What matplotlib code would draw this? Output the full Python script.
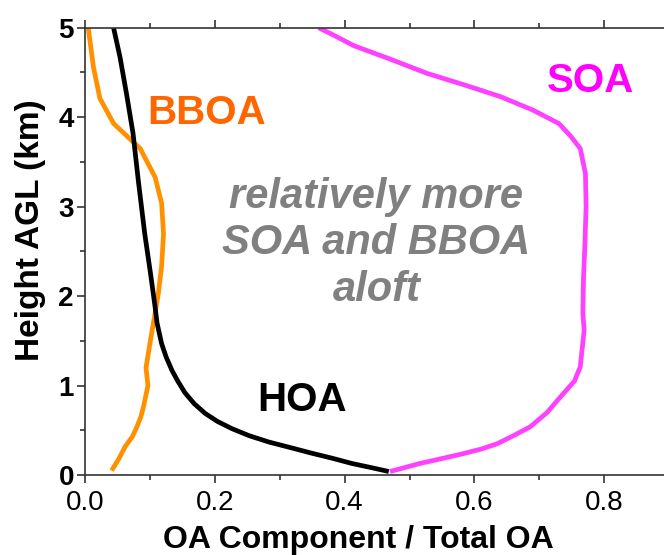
import matplotlib
matplotlib.use("Agg")
import matplotlib.pyplot as plt
from matplotlib.ticker import MultipleLocator

plt.rcParams['font.family'] = ['Liberation Sans', 'DejaVu Sans']

# vertical profiles: fraction of total OA vs height (km)
hoa_x = [0.044, 0.054, 0.064, 0.074, 0.082, 0.092, 0.101, 0.108, 0.111, 0.118,
         0.125, 0.134, 0.143, 0.154, 0.168, 0.185, 0.204, 0.226, 0.253, 0.283,
         0.315, 0.349, 0.380, 0.411, 0.440, 0.468]
hoa_y = [5.00, 4.67, 4.26, 3.82, 3.30, 2.70, 2.25, 1.88, 1.70, 1.47,
         1.32, 1.17, 1.05, 0.92, 0.80, 0.69, 0.60, 0.52, 0.44, 0.37,
         0.31, 0.245, 0.19, 0.13, 0.085, 0.04]

bboa_x = [0.005, 0.013, 0.023, 0.044, 0.085, 0.108, 0.118, 0.121, 0.118, 0.113,
          0.108, 0.100, 0.094, 0.097, 0.090, 0.086, 0.080, 0.073, 0.062, 0.052,
          0.041]
bboa_y = [5.00, 4.56, 4.21, 3.93, 3.65, 3.33, 3.04, 2.70, 2.33, 2.03,
          1.81, 1.47, 1.20, 1.00, 0.76, 0.65, 0.54, 0.43, 0.32, 0.18,
          0.05]

soa_x = [0.360, 0.385, 0.414, 0.470, 0.527, 0.585, 0.640, 0.690, 0.730, 0.748,
         0.763, 0.771, 0.772, 0.770, 0.768, 0.767, 0.769, 0.763, 0.754, 0.732,
         0.712, 0.686, 0.660, 0.635, 0.610, 0.583, 0.550, 0.516, 0.493, 0.470]
soa_y = [5.00, 4.91, 4.80, 4.65, 4.49, 4.36, 4.23, 4.08, 3.93, 3.79,
         3.65, 3.37, 3.00, 2.55, 2.20, 1.81, 1.62, 1.21, 1.05, 0.87,
         0.70, 0.54, 0.44, 0.35, 0.29, 0.24, 0.185, 0.13, 0.085, 0.04]

fig = plt.figure(figsize=(6.64, 5.55), dpi=100)
ax = fig.add_axes([0.128, 0.144, 0.872, 0.806])

ax.plot(bboa_x, bboa_y, color='#ff9100', lw=3.4, solid_capstyle='butt')
ax.plot(hoa_x, hoa_y, color='black', lw=3.4, solid_capstyle='butt')
ax.plot(soa_x, soa_y, color='#ff40ff', lw=3.4, solid_capstyle='butt')

ax.set_xlim(0, 0.892)
ax.set_ylim(0, 5)

for s in ['left', 'bottom', 'top']:
    ax.spines[s].set_linewidth(1.2)
    ax.spines[s].set_color('#333333')
ax.spines['right'].set_visible(False)

ax.xaxis.set_major_locator(MultipleLocator(0.2))
ax.xaxis.set_minor_locator(MultipleLocator(0.1))
ax.yaxis.set_major_locator(MultipleLocator(1))
ax.yaxis.set_minor_locator(MultipleLocator(0.5))
ax.set_xticks([0.0, 0.2, 0.4, 0.6, 0.8])
ax.set_xticklabels(['0.0', '0.2', '0.4', '0.6', '0.8'])
ax.tick_params(which='major', direction='out', length=6, width=1.2, color='#333333',
               labelsize=20, top=True, right=False)
ax.tick_params(which='minor', direction='out', length=3.5, width=1.2, color='#333333',
               top=True, right=False)
ax.tick_params(axis='x', pad=5)
ax.tick_params(axis='y', pad=2)
for lab in ax.get_yticklabels():
    lab.set_fontweight('bold')

ax.set_xlabel('OA Component / Total OA', fontsize=23, fontweight='bold')
ax.xaxis.set_label_coords(0.4715, -0.111, transform=ax.transAxes)
ax.set_ylabel('Height AGL (km)', fontsize=24, fontweight='bold')
ax.yaxis.set_label_coords(-0.068, 0.547, transform=ax.transAxes)

ax.text(0.187, 4.05, 'BBOA', color='#ff6600', fontsize=29, fontweight='bold',
        ha='center', va='center')
ax.text(0.778, 4.41, 'SOA', color='#ff00ff', fontsize=29, fontweight='bold',
        ha='center', va='center')
ax.text(0.335, 0.84, 'HOA', color='black', fontsize=29, fontweight='bold',
        ha='center', va='center')
ax.text(0.449, 2.59, 'relatively more\nSOA and BBOA\naloft', color='#808080',
        fontsize=30, fontweight='bold', fontstyle='italic', ha='center', va='center',
        linespacing=1.22)

fig.savefig('out.png', dpi=100)
